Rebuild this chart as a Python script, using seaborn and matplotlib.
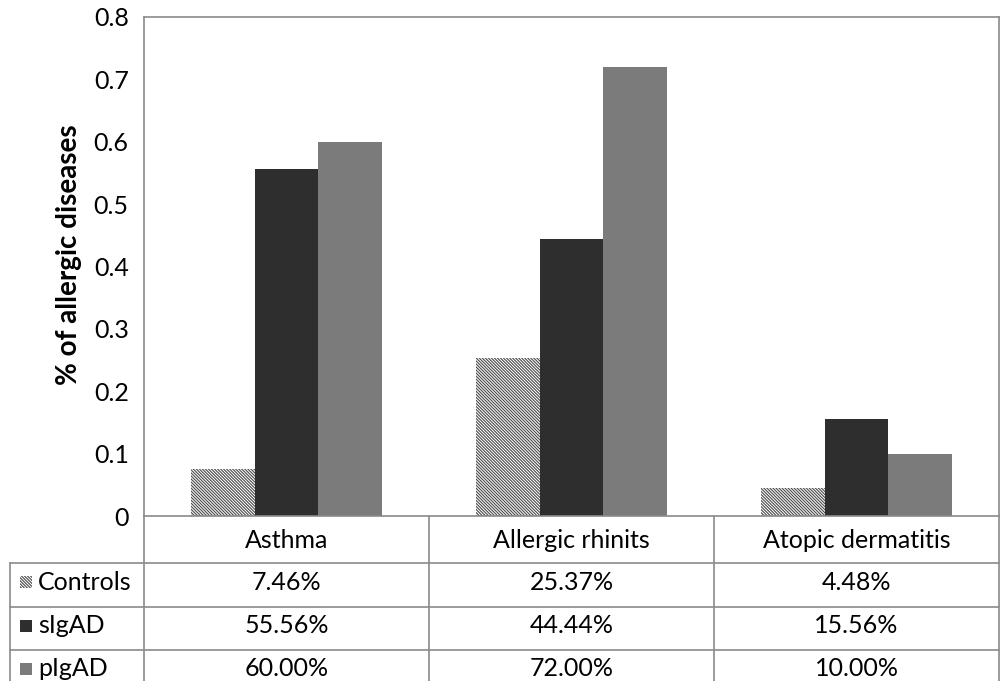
import matplotlib
matplotlib.use("Agg")
import matplotlib.pyplot as plt
import matplotlib.transforms as mtransforms
from matplotlib.patches import Rectangle
from matplotlib.ticker import FuncFormatter
import pandas as pd
import seaborn as sns

# Data: percentage of subjects with each allergic disease
categories = ["Asthma", "Allergic rhinits", "Atopic dermatitis"]
groups = ["Controls", "sIgAD", "pIgAD"]
controls_pct = [7.46, 25.37, 4.48]
sigad_pct = [55.56, 44.44, 15.56]
pigad_pct = [60.00, 72.00, 10.00]
y_ticks = [0, 0.1, 0.2, 0.3, 0.4, 0.5, 0.6, 0.7, 0.8]

series = {"Controls": controls_pct, "sIgAD": sigad_pct, "pIgAD": pigad_pct}
rows = []
for g in groups:
    for c, v in zip(categories, series[g]):
        rows.append({"category": c, "group": g, "value": v / 100.0})
df = pd.DataFrame(rows)

sns.set_theme(style="white")
plt.rcParams["font.family"] = ["Lato", "DejaVu Sans"]
plt.rcParams["hatch.linewidth"] = 0.8

W, H = 1001, 681
fig = plt.figure(figsize=(W / 100, H / 100), dpi=100)
# axes box in pixels: left 144, right 999, top 17, bottom 516
L, R, T, B = 144, 999, 17, 516
ax = fig.add_axes([L / W, 1 - B / H, (R - L) / W, (B - T) / H])

fills = {"Controls": "white", "sIgAD": "#2e2e2e", "pIgAD": "#7b7b7b"}
sns.barplot(data=df, x="category", y="value", hue="group", order=categories,
            hue_order=groups, palette=fills, width=0.667, gap=0,
            saturation=1, linewidth=0, ax=ax, legend=False)

HATCH = "\\" * 11
HATCH_C = "#4a4a4a"
for g, cont in zip(groups, ax.containers):
    for bar in cont:
        bar.set_linewidth(0)
        if g == "Controls":
            bar.set_hatch(HATCH)
            bar.set_edgecolor(HATCH_C)

ax.set_xlim(-0.5, len(categories) - 0.5)
ax.set_ylim(0, 0.8)
ax.set_yticks(y_ticks)
ax.yaxis.set_major_formatter(FuncFormatter(lambda v, p: "0" if v == 0 else f"{v:.1f}"))
ax.tick_params(axis="y", length=0, pad=11, labelsize=18, colors="#000000")
ax.set_xticks([])
ax.set_xlabel("")
ax.set_ylabel("% of allergic diseases", fontsize=20, fontweight="bold", color="#000000")
ax.yaxis.set_label_coords((82 - L) / (R - L), (B - 255) / (B - T))

line_c = "#8a8a8a"
for s in ax.spines.values():
    s.set_color(line_c)
    s.set_linewidth(1.2)

# Data table under the plot
def ay(py):
    return (B - py) / (B - T)

def axx(px):
    return (px - L) / (R - L)

blend = mtransforms.blended_transform_factory(ax.transData, ax.transAxes)
row_edges = [516, 563, 607, 650, 694]
table_bottom = ay(row_edges[-1])
x_left = axx(10)

lk = dict(color=line_c, lw=1.2, clip_on=False)
# horizontal rules
for py in row_edges[1:]:
    ax.plot([x_left, 1], [ay(py), ay(py)], transform=ax.transAxes, **lk)
# vertical rules
ax.plot([x_left, x_left], [ay(563), table_bottom], transform=ax.transAxes, **lk)
ax.plot([0, 0], [0, table_bottom], transform=ax.transAxes, **lk)
ax.plot([1, 1], [0, table_bottom], transform=ax.transAxes, **lk)
for i in range(1, len(categories)):
    ax.plot([i - 0.5, i - 0.5], [0, table_bottom], transform=blend, **lk)

tk = dict(fontsize=18, color="#000000", ha="center", va="center", clip_on=False)
for i, c in enumerate(categories):
    ax.text(i, ay(540), c, transform=blend, **tk)

for r, g in enumerate(groups):
    top, bot = row_edges[r + 1], row_edges[r + 2]
    yc = ay((top + bot) / 2 - 3)
    # legend key
    ax.add_patch(Rectangle((axx(20), yc - 6 / (B - T)), 12 / (R - L), 12 / (B - T),
                           transform=ax.transAxes, facecolor=fills[g],
                           edgecolor=HATCH_C if g == "Controls" else "none",
                           hatch=HATCH if g == "Controls" else None,
                           linewidth=0, clip_on=False))
    ax.text(axx(38), yc, g, transform=ax.transAxes, fontsize=18, color="#000000",
            ha="left", va="center", clip_on=False)
    for i, v in enumerate(series[g]):
        ax.text(i, yc, f"{v:.2f}%", transform=blend, **tk)

fig.savefig("out.png", dpi=100, facecolor="white")
